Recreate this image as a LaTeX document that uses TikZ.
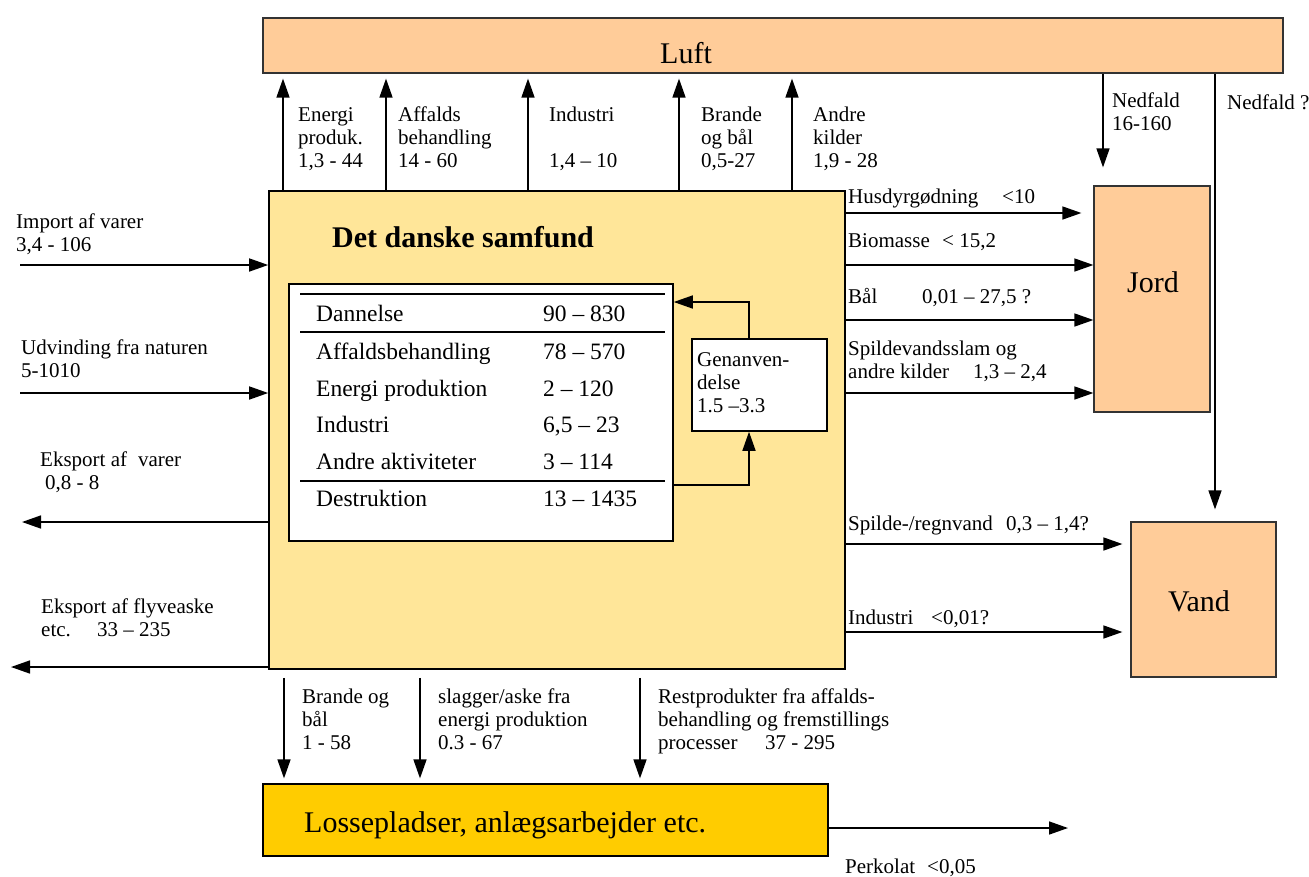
\documentclass[tikz,border=0pt]{standalone}
\usepackage{fontspec}
\setmainfont{Liberation Serif}
\usetikzlibrary{positioning,arrows.meta}

\definecolor{airfill}{HTML}{FFCC99}
\definecolor{societyfill}{HTML}{FFE699}
\definecolor{dumpfill}{HTML}{FFCC00}

\tikzset{
  box/.style={draw=black!80, line width=1.2pt, inner sep=0pt},
  flow/.style={line width=1.5pt, -{Triangle[length=19pt,width=13pt]}},
  lbl/.style={anchor=north west, inner sep=0pt, align=left, yshift=16.1pt,
    font=\fontsize{21}{23}\selectfont, execute at begin node=\strut},
  bigtxt/.style={anchor=base, inner sep=0pt, font=\fontsize{30}{36}\selectfont},
  rowtxt/.style={anchor=base west, inner sep=0pt, font=\fontsize{23.5}{28}\selectfont}
}

\begin{document}
\begin{tikzpicture}[x=1pt,y=-1pt]
\useasboundingbox (0,0) rectangle (1309,876);

% kasser
\node[box, fill=airfill, minimum width=1020pt, minimum height=55pt] (luft) at (773,45.5) {};
\node[bigtxt, anchor=base west] (lufttxt) at (660,63) {Luft};

\node[box, draw=black, line width=1.6pt, fill=societyfill, minimum width=576pt, minimum height=478pt] (samfund) at (557,430) {};
\node[anchor=base west, inner sep=0pt, font=\fontsize{30}{36}\selectfont\bfseries] (titel) at (332,247) {Det danske samfund};

\node[box, draw=black, line width=1.5pt, fill=white, minimum width=384pt, minimum height=257pt] (aktiv) at (481,412.5) {};
\draw[line width=2pt] (300,294) -- (665,294);
\draw[line width=2pt] (300,332) -- (665,332);
\draw[line width=2pt] (300,481) -- (665,481);
\node[rowtxt] (row1) at (316,321) {\makebox[227pt][l]{Dannelse}90 – 830};
\node[rowtxt] (row2) at (316,359) {\makebox[227pt][l]{Affaldsbehandling}78 – 570};
\node[rowtxt] (row3) at (316,396) {\makebox[227pt][l]{Energi produktion}2 – 120};
\node[rowtxt] (row4) at (316,432) {\makebox[227pt][l]{Industri}6,5 – 23};
\node[rowtxt] (row5) at (316,469) {\makebox[227pt][l]{Andre aktiviteter}3 – 114};
\node[rowtxt] (row6) at (316,506) {\makebox[227pt][l]{Destruktion}13 – 1435};

\node[box, draw=black, line width=1.5pt, fill=white, minimum width=135pt, minimum height=92pt] (genbrug) at (759.5,385) {};
\node[lbl] (genbrugtxt) at (697,368) {Genanven-\\delse\\1.5 –3.3};

\node[box, fill=airfill, minimum width=116pt, minimum height=226pt] (jord) at (1152,299) {};
\node[bigtxt] (jordtxt) at (1153,292) {Jord};
\node[box, fill=airfill, minimum width=145pt, minimum height=155pt] (vand) at (1203.5,599.5) {};
\node[bigtxt] (vandtxt) at (1199,611) {Vand};
\node[box, draw=black, fill=dumpfill, minimum width=565pt, minimum height=72pt] (losse) at (545.5,820) {};
\node[bigtxt, anchor=base west] (lossetxt) at (304,832) {Lossepladser, anlægsarbejder etc.};

% genanvendelse
\coordinate (fbx) at (749,0);
\coordinate (fbtop) at (0,302);
\coordinate (fbbot) at (0,485);
\draw[flow] (genbrug.north -| fbx) |- (aktiv.east |- fbtop);
\draw[flow] (aktiv.east |- fbbot) -| (genbrug.south -| fbx);

% til luft
\foreach \x in {283,386,528,679,792} {
  \coordinate (up) at (\x,0);
  \draw[flow, shorten >=5pt] (samfund.north -| up) -- (luft.south -| up);
}
\node[lbl] (lblenergi) at (298,123) {Energi\\produk.\\1,3 - 44};
\node[lbl] (lblaffald) at (398,123) {Affalds\\behandling\\14 - 60};
\node[lbl] (lblindustri) at (549,123) {Industri\\[23pt]1,4 – 10};
\node[lbl] (lblbrande) at (701,123) {Brande\\og bål\\0,5-27};
\node[lbl] (lblandre) at (813,123) {Andre\\kilder\\1,9 - 28};

% nedfald
\coordinate (ned1) at (1103,0);
\coordinate (ned2) at (1215,0);
\draw[flow, shorten >=18pt] (luft.south -| ned1) -- (jord.north -| ned1);
\draw[flow, shorten >=12pt] (luft.south -| ned2) -- (vand.north -| ned2);
\node[lbl] (lblnedfald) at (1112,109) {Nedfald\\16-160};
\node[lbl] (lblnedfald2) at (1227,109) {Nedfald ?};

% ind og ud til venstre
\coordinate (impsrc) at (20,265);
\coordinate (udvsrc) at (20,393);
\coordinate (eksdst) at (22,522);
\coordinate (flydst) at (11,667);
\draw[flow] (impsrc) -- (samfund.west |- impsrc);
\draw[flow] (udvsrc) -- (samfund.west |- udvsrc);
\draw[flow] (samfund.west |- eksdst) -- (eksdst);
\draw[flow] (samfund.west |- flydst) -- (flydst);
\node[lbl] (lblimport) at (16,230) {Import af varer\\3,4 - 106};
\node[lbl] (lbludvind) at (21,356) {Udvinding fra naturen\\5-1010};
\node[lbl] (lbleksport) at (40,468) {Eksport af\hspace{11pt}varer\\\hspace{5pt}0,8 - 8};
\node[lbl] (lblflyve) at (41,615) {Eksport af flyveaske\\\makebox[56pt][l]{etc.}33 – 235};

% til jord og vand
\coordinate (hus) at (0,213);
\coordinate (bio) at (0,265);
\coordinate (baal) at (0,320);
\coordinate (slam) at (0,393);
\coordinate (regn) at (0,544);
\coordinate (ind) at (0,632);
\draw[flow, shorten >=12pt] (samfund.east |- hus) -- (jord.west |- hus);
\draw[flow] (samfund.east |- bio) -- (jord.west |- bio);
\draw[flow] (samfund.east |- baal) -- (jord.west |- baal);
\draw[flow] (samfund.east |- slam) -- (jord.west |- slam);
\draw[flow, shorten >=8pt] (samfund.east |- regn) -- (vand.west |- regn);
\draw[flow, shorten >=8pt] (samfund.east |- ind) -- (vand.west |- ind);
\node[lbl] (lblhus) at (848,203) {\makebox[154pt][l]{Husdyrgødning}<10};
\node[lbl] (lblbio) at (848,247) {\makebox[94pt][l]{Biomasse}< 15,2};
\node[lbl] (lblbaal) at (848,303) {\makebox[74pt][l]{Bål}0,01 – 27,5 ?};
\node[lbl] (lblslam) at (848,357) {Spildevandsslam og\\\makebox[125pt][l]{andre kilder}1,3 – 2,4};
\node[lbl] (lblregn) at (848,530) {\makebox[158pt][l]{Spilde-/regnvand}0,3 – 1,4?};
\node[lbl] (lblind) at (848,624) {\makebox[83pt][l]{Industri}<0,01?};

% til lossepladser
\foreach \x in {284,420,640} {
  \coordinate (dn) at (\x,0);
  \draw[flow, shorten <=8pt, shorten >=5pt] (samfund.south -| dn) -- (losse.north -| dn);
}
\node[lbl] (lblbaal2) at (302,705) {Brande og\\bål\\1 - 58};
\node[lbl] (lblslagger) at (438,705) {slagger/aske fra\\energi produktion\\0.3 - 67};
\node[lbl] (lblrest) at (658,705) {Restprodukter fra affalds-\\behandling og fremstillings\\\makebox[107pt][l]{processer}37 - 295};

% perkolat
\coordinate (perk) at (1068,828);
\draw[flow] (losse.east |- perk) -- (perk);
\node[lbl] (lblperk) at (845,873) {\makebox[82pt][l]{Perkolat}<0,05};
\end{tikzpicture}
\end{document}
